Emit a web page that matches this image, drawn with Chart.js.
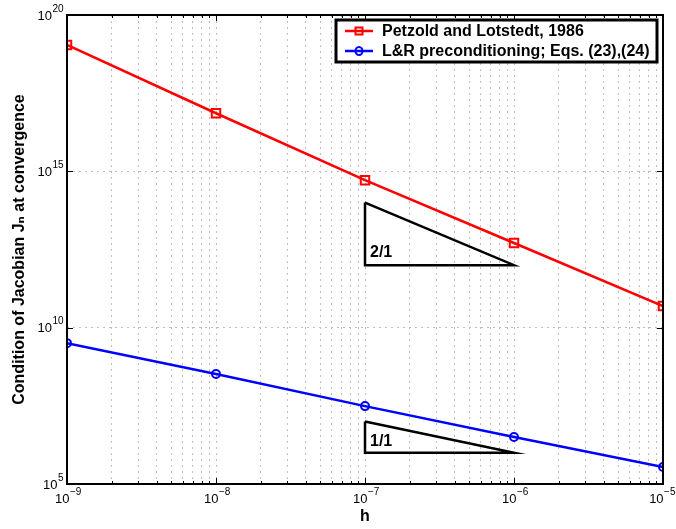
<!DOCTYPE html>
<html>
<head>
<meta charset="utf-8">
<script src="https://cdn.jsdelivr.net/npm/chart.js@4.4.0/dist/chart.umd.min.js"></script>
<style>
  html, body { margin: 0; padding: 0; background: #fff; }
  #wrap { width: 676px; height: 529px; }
</style>
</head>
<body>
<div id="wrap"><canvas id="condChart" width="676" height="529"></canvas></div>
<script>
// step sizes h
const hValues = [1e-9, 1e-8, 1e-7, 1e-6, 1e-5];
// condition numbers
const petzold = [1.1e19, 7.2e16, 5.2e14, 5.1e12, 4.9e10];
const lrPrecond = [3.2e9, 3.3e8, 3.1e7, 3.2e6, 3.5e5];

const seriesLabels = ['Petzold and Lotstedt, 1986', 'L&R preconditioning; Eqs. (23),(24)'];

// slope triangles (corner points)
const tri21 = [{x: 1e-7, y: 1e14}, {x: 1e-7, y: 1e12}, {x: 1e-6, y: 1e12}, {x: 1e-7, y: 1e14}];
const tri11 = [{x: 1e-7, y: 1e7}, {x: 1e-7, y: 1e6}, {x: 1e-6, y: 1e6}, {x: 1e-7, y: 1e7}];
const triLabels = ['2/1', '1/1'];
const triLabelPos = [{x: 1e-7, y: 2.6e12}, {x: 1e-7, y: 2.2e6}];

// tick labels: base and exponent
const xTicks = [1e-9, 1e-8, 1e-7, 1e-6, 1e-5];
const xTickExp = ['\u22129', '\u22128', '\u22127', '\u22126', '\u22125'];
const yTicks = [1e5, 1e10, 1e15, 1e20];
const yTickExp = ['5', '10', '15', '20'];

const font = "'Liberation Sans', 'DejaVu Sans', Arial, sans-serif";

function toPts(xs, ys) {
    return xs.map((x, i) => ({x: x, y: ys[i]}));
}

function findIdx(ticks, v) {
    for (let i = 0; i < ticks.length; i++) {
        if (Math.abs(Math.log10(v) - Math.log10(ticks[i])) < 1e-6) return i;
    }
    return -1;
}

// draws "10" with a raised exponent; align: 'center' or 'right'
function drawPow(ctx, exp, x, y, align, maxRight) {
    ctx.font = '13px ' + font;
    const wb = ctx.measureText('10').width;
    ctx.font = '10px ' + font;
    const we = ctx.measureText(exp).width;
    let left = align === 'right' ? x - wb - we : x - (wb + we) / 2;
    if (maxRight && left + wb + we + 1 > maxRight) left = maxRight - wb - we - 1;
    ctx.textAlign = 'left';
    ctx.textBaseline = 'middle';
    ctx.font = '13px ' + font;
    ctx.fillText('10', left, y);
    ctx.font = '10px ' + font;
    ctx.fillText(exp, left + wb + 0.5, y - 7);
}

// frame, inward ticks, tick labels, legend and triangle text
const decorPlugin = {
    id: 'decor',
    afterDraw(chart) {
        const ctx = chart.ctx;
        const a = chart.chartArea;
        const xs = chart.scales.x, ys = chart.scales.y;
        ctx.save();

        // inward tick marks
        ctx.strokeStyle = '#000';
        ctx.lineWidth = 1;
        xs.ticks.forEach(t => {
            const px = Math.round(xs.getPixelForValue(t.value)) + 0.5;
            const len = findIdx(xTicks, t.value) >= 0 ? 6 : 3;
            ctx.beginPath();
            ctx.moveTo(px, a.bottom); ctx.lineTo(px, a.bottom - len);
            ctx.moveTo(px, a.top); ctx.lineTo(px, a.top + len);
            ctx.stroke();
        });
        ys.ticks.forEach(t => {
            const py = Math.round(ys.getPixelForValue(t.value)) + 0.5;
            ctx.beginPath();
            ctx.moveTo(a.left, py); ctx.lineTo(a.left + 6, py);
            ctx.moveTo(a.right, py); ctx.lineTo(a.right - 6, py);
            ctx.stroke();
        });

        // frame
        ctx.lineWidth = 2;
        ctx.strokeRect(a.left, a.top, a.right - a.left, a.bottom - a.top);

        // tick labels
        ctx.fillStyle = '#000';
        xTicks.forEach((v, i) => {
            drawPow(ctx, xTickExp[i], xs.getPixelForValue(v) + 1, a.bottom + 15, 'center', chart.width);
        });
        yTicks.forEach((v, i) => {
            drawPow(ctx, yTickExp[i], a.left - 4, ys.getPixelForValue(v) + 1, 'right');
        });

        // triangle labels
        ctx.font = 'bold 16px ' + font;
        ctx.textAlign = 'left';
        ctx.textBaseline = 'middle';
        triLabels.forEach((txt, i) => {
            const px = xs.getPixelForValue(triLabelPos[i].x) + 5;
            const py = ys.getPixelForValue(triLabelPos[i].y);
            ctx.fillText(txt, px, py);
        });

        // legend box
        const bx = 336, by = 20, bw = 321, bh = 42;
        ctx.fillStyle = '#fff';
        ctx.fillRect(bx, by, bw, bh);
        ctx.lineWidth = 3;
        ctx.strokeStyle = '#000';
        ctx.strokeRect(bx, by, bw, bh);
        ctx.font = 'bold 16px ' + font;
        ctx.textBaseline = 'middle';
        [0, 1].forEach(i => {
            const ds = chart.data.datasets[i];
            const y = by + 11 + i * 20;
            ctx.strokeStyle = ds.borderColor;
            ctx.lineWidth = 2.5;
            ctx.beginPath();
            ctx.moveTo(345, y); ctx.lineTo(373, y);
            ctx.stroke();
            ctx.lineWidth = 2;
            ctx.beginPath();
            if (ds.pointStyle === 'rect') {
                ctx.rect(355.5, y - 3.5, 7, 7);
            } else {
                ctx.ellipse(359, y, 3.5, 4, 0, 0, Math.PI * 2);
            }
            ctx.stroke();
            ctx.fillStyle = '#000';
            ctx.fillText(ds.label, 382, y + 1);
        });
        ctx.restore();
    }
};

new Chart(document.getElementById('condChart'), {
    type: 'scatter',
    data: {
        datasets: [
            {
                label: seriesLabels[0],
                data: toPts(hValues, petzold),
                showLine: true,
                borderColor: '#ff0000',
                backgroundColor: 'rgba(255,255,255,0)',
                borderWidth: 2.5,
                pointStyle: 'rect',
                pointRadius: 6,
                pointBorderWidth: 2,
                pointBorderColor: '#ff0000'
            },
            {
                label: seriesLabels[1],
                data: toPts(hValues, lrPrecond),
                showLine: true,
                borderColor: '#0000ff',
                backgroundColor: 'rgba(255,255,255,0)',
                borderWidth: 2.5,
                pointStyle: 'circle',
                pointRadius: 4,
                pointBorderWidth: 2,
                pointBorderColor: '#0000ff'
            },
            {
                label: '',
                data: tri21,
                showLine: true,
                borderColor: '#000',
                borderWidth: 2.5,
                pointRadius: 0
            },
            {
                label: '',
                data: tri11,
                showLine: true,
                borderColor: '#000',
                borderWidth: 2.5,
                pointRadius: 0
            }
        ]
    },
    options: {
        responsive: false,
        animation: false,
        layout: { padding: { top: 15, right: 13, left: 0, bottom: 0 } },
        plugins: {
            legend: { display: false },
            tooltip: { enabled: false }
        },
        scales: {
            x: {
                type: 'logarithmic',
                min: 1e-9,
                max: 1e-5,
                afterBuildTicks(scale) {
                    const t = [];
                    xTicks.forEach((d, i) => {
                        if (i < xTicks.length - 1) {
                            for (let m = 1; m <= 9; m++) t.push({value: d * m});
                        } else {
                            t.push({value: d});
                        }
                    });
                    scale.ticks = t;
                },
                afterFit(scale) {
                    scale.height = 45;
                    scale.paddingLeft = 0;
                    scale.paddingRight = 0;
                },
                grid: { color: '#bdbdbd', lineWidth: 1, drawTicks: false },
                border: { display: false, dash: [2, 4] },
                ticks: {
                    autoSkip: false,
                    maxRotation: 0,
                    callback: () => ''
                },
                title: {
                    display: true,
                    text: 'h',
                    color: '#000',
                    padding: { top: 0, bottom: 3 },
                    font: { family: font, size: 16, weight: 'bold' }
                }
            },
            y: {
                type: 'logarithmic',
                min: 1e5,
                max: 1e20,
                afterBuildTicks(scale) {
                    scale.ticks = yTicks.map(v => ({value: v}));
                },
                afterFit(scale) {
                    scale.width = 67;
                    scale.paddingTop = 0;
                    scale.paddingBottom = 0;
                },
                grid: { color: '#bdbdbd', lineWidth: 1, drawTicks: false },
                border: { display: false, dash: [2, 4] },
                ticks: {
                    callback: () => ''
                },
                title: {
                    display: true,
                    text: 'Condition of Jacobian J\u2099 at convergence',
                    color: '#000',
                    padding: { top: 10, bottom: 0 },
                    font: { family: font, size: 16, weight: 'bold' }
                }
            }
        }
    },
    plugins: [decorPlugin]
});
</script>
</body>
</html>
